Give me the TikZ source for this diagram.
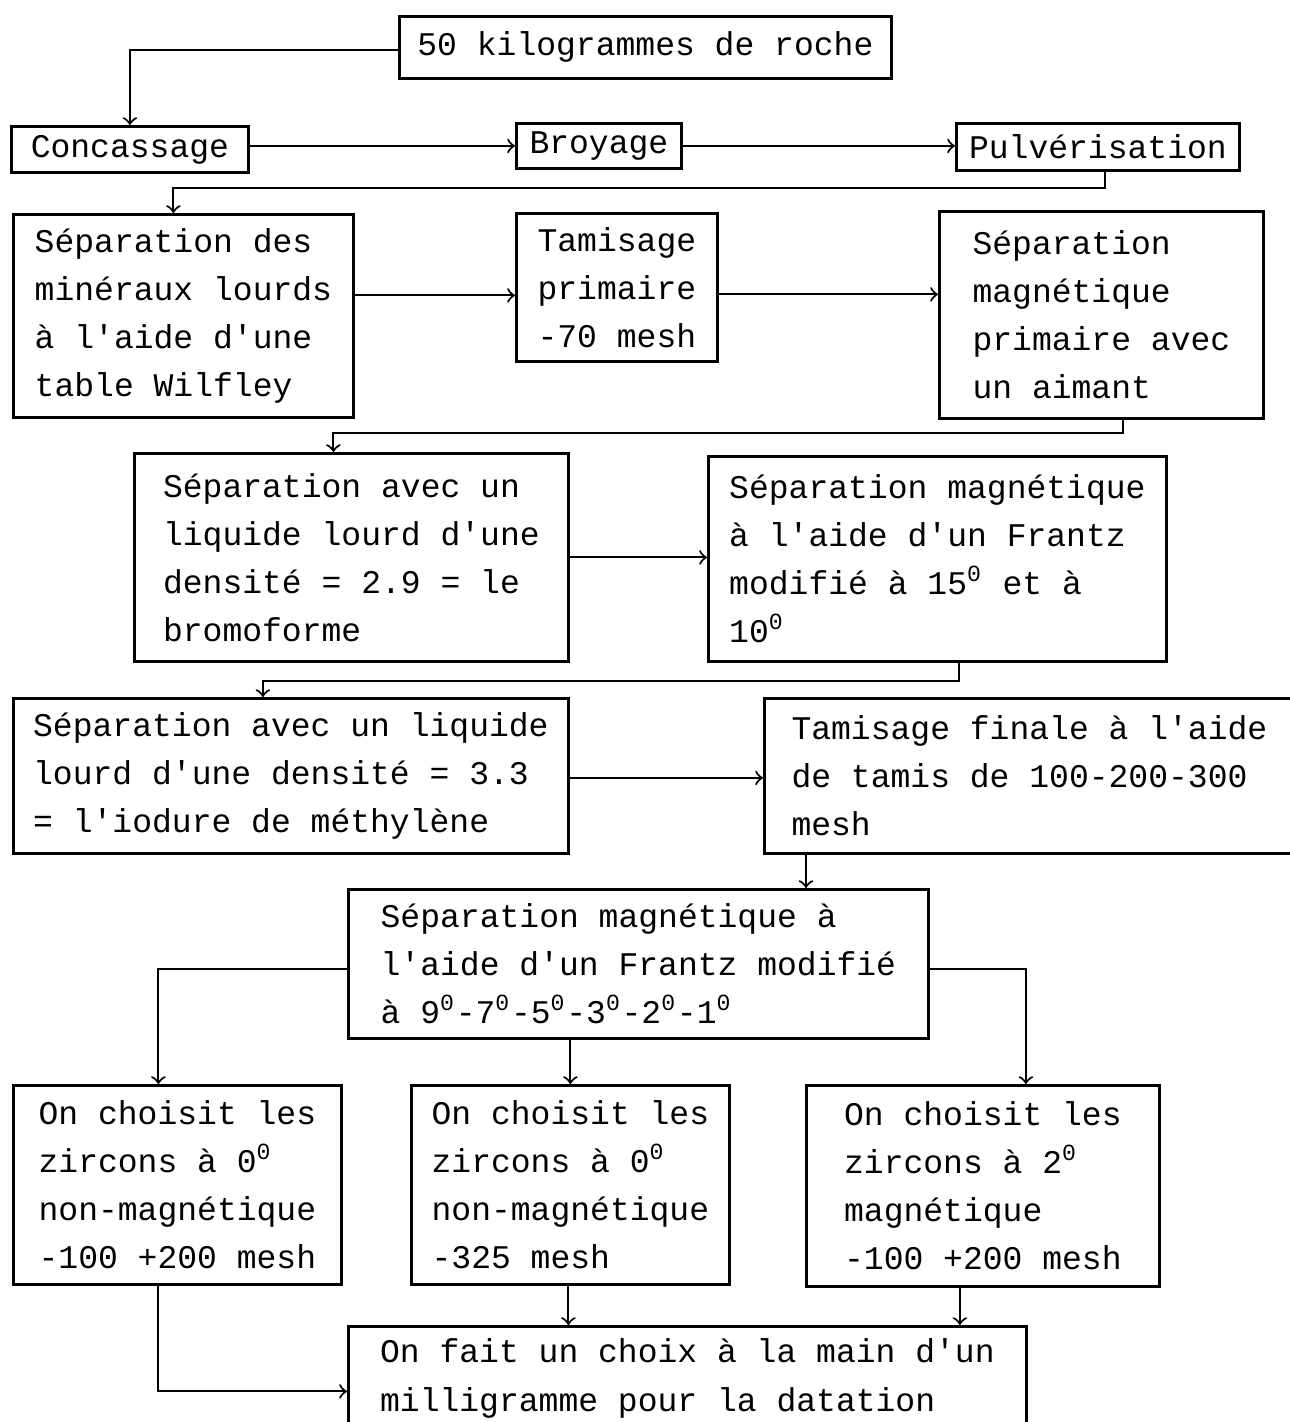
\documentclass[tikz,border=0pt]{standalone}
\usepackage{fontspec}
\setmonofont{Liberation Mono}
\usepackage{tikz}
\usetikzlibrary{positioning, arrows}

\begin{document}
\begin{tikzpicture}[->, semithick,
        etape/.style={draw, thick, anchor=north west, align=left, inner sep=0pt,
                font=\ttfamily\fontsize{9.4}{13.7}\selectfont}]
        \useasboundingbox (0,0) rectangle (12.90,-14.22);

        \node[etape, minimum width=4.92cm, minimum height=0.62cm] (roche) at (3.98,-0.15) {50 kilogrammes de roche};
        \node[etape, minimum width=2.37cm, minimum height=0.46cm] (conc) at (0.10,-1.25) {Concassage};
        \node[etape, minimum width=1.65cm, minimum height=0.45cm] (broy) at (5.15,-1.22) {Broyage};
        \node[etape, minimum width=2.83cm, minimum height=0.47cm] (pulv) at (9.55,-1.22) {Pulvérisation};

        \node[etape, minimum width=3.40cm, minimum height=2.03cm] (wilf) at (0.12,-2.13)
                {Séparation des\\minéraux lourds\\à l'aide d'une\\table Wilfley};
        \node[etape, minimum width=2.01cm, minimum height=1.48cm] (tamp) at (5.15,-2.12)
                {Tamisage\\primaire\\-70 mesh};
        \node[etape, minimum width=3.24cm, minimum height=2.07cm] (aim) at (9.38,-2.10)
                {Séparation\\magnétique\\primaire avec\\un aimant};

        \node[etape, minimum width=4.34cm, minimum height=2.08cm] (bromo) at (1.33,-4.52)
                {Séparation avec un\\liquide lourd d'une\\densité = 2.9 = le\\bromoforme};
        \node[etape, minimum width=4.58cm, minimum height=2.05cm] (frz) at (7.07,-4.55)
                {Séparation magnétique\\à l'aide d'un Frantz\\modifié à 15\textsuperscript{0} et à\\10\textsuperscript{0}};

        \node[etape, minimum width=5.55cm, minimum height=1.55cm] (iod) at (0.12,-6.97)
                {Séparation avec un liquide\\lourd d'une densité = 3.3\\= l'iodure de méthylène};
        \node[etape, minimum width=5.30cm, minimum height=1.55cm] (tamf) at (7.63,-6.97)
                {Tamisage finale à l'aide\\de tamis de 100-200-300\\mesh};

        \node[etape, minimum width=5.80cm, minimum height=1.49cm] (frzb) at (3.47,-8.88)
                {Séparation magnétique à\\l'aide d'un Frantz modifié\\à 9\textsuperscript{0}-7\textsuperscript{0}-5\textsuperscript{0}-3\textsuperscript{0}-2\textsuperscript{0}-1\textsuperscript{0}};

        \node[etape, minimum width=3.28cm, minimum height=1.99cm] (zira) at (0.12,-10.84)
                {On choisit les\\zircons à 0\textsuperscript{0}\\non-magnétique\\-100 +200 mesh};
        \node[etape, minimum width=3.18cm, minimum height=1.99cm] (zirb) at (4.10,-10.84)
                {On choisit les\\zircons à 0\textsuperscript{0}\\non-magnétique\\-325 mesh};
        \node[etape, minimum width=3.53cm, minimum height=2.01cm] (zirc) at (8.05,-10.84)
                {On choisit les\\zircons à 2\textsuperscript{0}\\magnétique\\-100 +200 mesh};

        \node[etape, minimum width=6.78cm, minimum height=1.04cm] (mg) at (3.47,-13.25)
                {On fait un choix à la main d'un\\milligramme pour la datation};

        \coordinate (tfout) at ([xshift=4.3mm]tamf.south west);

        \draw ([yshift=-0.3mm]roche.west) -| (conc.north);
        \draw (conc.east |- broy.west) -- (broy.west);
        \draw (broy.east) -- (broy.east -| pulv.west);
        \draw ([xshift=0.7mm]pulv.south) -- ++(0,-0.16) -| ([xshift=-1mm]wilf.north);
        \draw ([yshift=-0.8mm]wilf.east |- tamp.west) -- ([yshift=-0.8mm]tamp.west);
        \draw ([yshift=-0.7mm]tamp.east) -- ([yshift=-0.7mm]tamp.east -| aim.west);
        \draw ([xshift=2.2mm]aim.south) -- ++(0,-0.13) -| ([xshift=-1.8mm]bromo.north);
        \draw (bromo.east) -- (bromo.east -| frz.west);
        \draw ([xshift=2.2mm]frz.south) -- ++(0,-0.18) -| ([xshift=-2.8mm]iod.north);
        \draw ([yshift=-0.2mm]iod.east) -- ([yshift=-0.2mm]iod.east -| tamf.west);
        \draw (tfout) -- (tfout |- frzb.north);
        \draw ([yshift=-0.5mm]frzb.west) -| ([xshift=-1.9mm]zira.north);
        \draw (frzb.south -| zirb.north) -- (zirb.north);
        \draw ([yshift=-0.5mm]frzb.east) -| ([xshift=4.3mm]zirc.north);
        \draw ([xshift=-1.9mm]zira.south) |- ([yshift=-1.3mm]mg.west);
        \draw ([xshift=-0.2mm]zirb.south) -- ([xshift=-0.2mm]zirb.south |- mg.north);
        \draw ([xshift=-2.3mm]zirc.south) -- ([xshift=-2.3mm]zirc.south |- mg.north);
\end{tikzpicture}
\end{document}
